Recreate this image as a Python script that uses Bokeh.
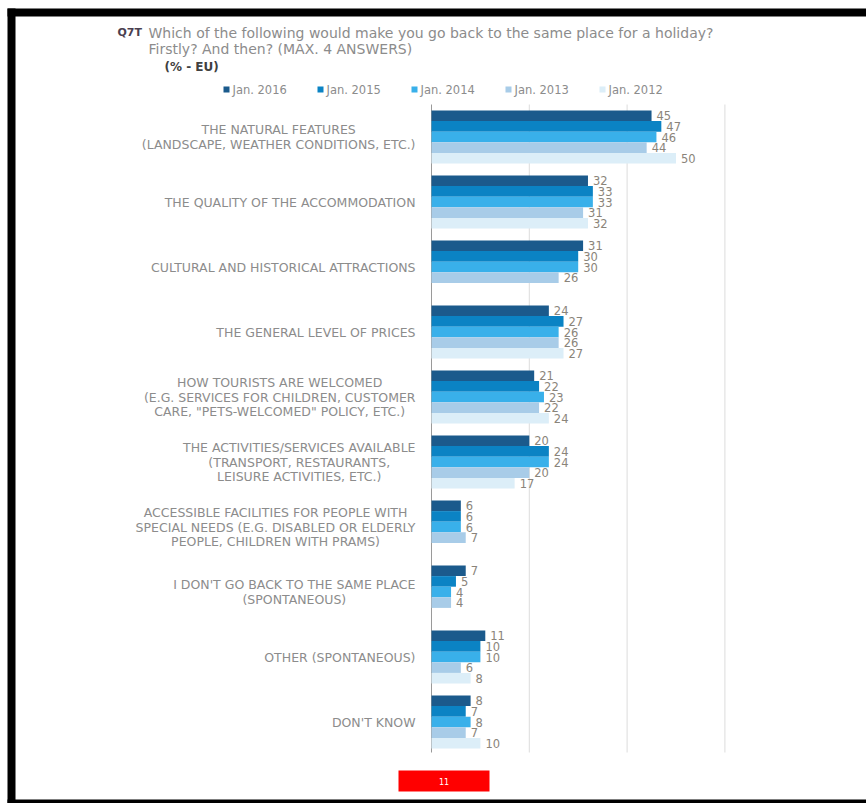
from bokeh.plotting import figure
from bokeh.models import Range1d, ColumnDataSource
from bokeh.core.properties import value
from bokeh.embed import file_html
from bokeh.resources import INLINE

# ---------------- data ----------------
categories = [
    "THE NATURAL FEATURES\n(LANDSCAPE, WEATHER CONDITIONS, ETC.)",
    "THE QUALITY OF THE ACCOMMODATION",
    "CULTURAL AND HISTORICAL ATTRACTIONS",
    "THE GENERAL LEVEL OF PRICES",
    "HOW TOURISTS ARE WELCOMED\n(E.G. SERVICES FOR CHILDREN, CUSTOMER\nCARE, \"PETS-WELCOMED\" POLICY, ETC.)",
    "THE ACTIVITIES/SERVICES AVAILABLE\n(TRANSPORT, RESTAURANTS,\nLEISURE ACTIVITIES, ETC.)",
    "ACCESSIBLE FACILITIES FOR PEOPLE WITH\nSPECIAL NEEDS (E.G. DISABLED OR ELDERLY\nPEOPLE, CHILDREN WITH PRAMS)",
    "I DON'T GO BACK TO THE SAME PLACE\n(SPONTANEOUS)",
    "OTHER (SPONTANEOUS)",
    "DON'T KNOW",
]
series_names = ["Jan. 2016", "Jan. 2015", "Jan. 2014", "Jan. 2013", "Jan. 2012"]
jan2016 = [45, 32, 31, 24, 21, 20, 6, 7, 11, 8]
jan2015 = [47, 33, 30, 27, 22, 24, 6, 5, 10, 7]
jan2014 = [46, 33, 30, 26, 23, 24, 6, 4, 10, 8]
jan2013 = [44, 31, 26, 26, 22, 20, 7, 4, 6, 7]
jan2012 = [50, 32, None, 27, 24, 17, None, None, 8, 10]
series_values = [jan2016, jan2015, jan2014, jan2013, jan2012]
colors = ["#1B5A8C", "#0B83C4", "#39B0EA", "#A8CCE8", "#DCEEF8"]
grid_ticks = [20, 40, 60]
title_code = "Q7T"
title_lines = ["Which of the following would make you go back to the same place for a holiday?",
               "Firstly? And then? (MAX. 4 ANSWERS)"]
subtitle = "(% - EU)"
page_number = "11"

# ---------------- layout ----------------
W, H = 866, 803
PXU = 4.89          # pixels per percentage point
ZERO_PX = 431       # pixel of value 0
GROUP_TOP = 110
GROUP_STEP = 65
BAR_H = 10.6

def X(px):
    return (px - ZERO_PX) / PXU

p = figure(width=W, height=H, output_backend="svg", toolbar_location=None,
           x_range=Range1d(X(0), X(W)), y_range=Range1d(H, 0),
           min_border=0, outline_line_color=None)
p.axis.visible = False
p.grid.visible = False
p.background_fill_color = "white"
p.border_fill_color = "white"

FONT = value("DejaVu Sans")

# grid lines and axis line
p.segment(x0=grid_ticks, x1=grid_ticks, y0=[104] * len(grid_ticks), y1=[752] * len(grid_ticks),
          line_color="#dcdcdc", line_width=1)
p.segment(x0=[0], x1=[0], y0=[104], y1=[752], line_color="#9a9a9a", line_width=1)

# bars
for j, (name, vals, col) in enumerate(zip(series_names, series_values, colors)):
    ys, vs, labels = [], [], []
    for i, v in enumerate(vals):
        if v is None:
            continue
        ys.append(GROUP_TOP + i * GROUP_STEP + (j + 0.5) * BAR_H)
        vs.append(v)
        labels.append(str(v))
    src = ColumnDataSource(dict(y=ys, v=vs, t=labels))
    p.hbar(y="y", left=0, right="v", height=BAR_H, fill_color=col, line_color=None, source=src)
    p.text(x="v", y="y", text="t", source=src, x_offset=5, text_align="left",
           text_baseline="middle", text_font=FONT, text_font_size="11.5px", text_color="#8a847a")

# category labels
cy = [GROUP_TOP + i * GROUP_STEP + 2.5 * BAR_H for i in range(len(categories))]
p.text(x=[X(415)] * len(categories), y=cy, text=categories, anchor=value("center_right"),
       text_align="center", text_baseline="middle", text_font=FONT, text_font_size="12.5px",
       text_color="#8c8c8c", text_line_height=0.95)

# legend
leg_x = [226 + k * 94 for k in range(len(series_names))]
p.rect(x=[X(v) for v in leg_x], y=[89] * len(leg_x), width=6, height=6,
       width_units="screen", height_units="screen", fill_color=colors, line_color=None)
p.text(x=[X(v + 6) for v in leg_x], y=[89] * len(leg_x), text=series_names,
       text_align="left", text_baseline="middle", text_font=FONT, text_font_size="11.5px",
       text_color="#8c8c8c")

# titles
p.text(x=[X(117)], y=[32], text=[title_code], text_align="left", text_baseline="middle",
       text_font=FONT, text_font_size="11px", text_font_style="bold", text_color="#4a4050")
p.text(x=[X(148), X(148)], y=[32, 48], text=title_lines, text_align="left", text_baseline="middle",
       text_font=FONT, text_font_size="14px", text_color="#8c8c8c")
p.text(x=[X(164)], y=[66], text=[subtitle], text_align="left", text_baseline="middle",
       text_font=FONT, text_font_size="12px", text_font_style="bold", text_color="#404040")

# page number box
p.quad(left=[X(398)], right=[X(489)], top=[770], bottom=[791], fill_color="#ff0000", line_color=None)
p.text(x=[X(443.5)], y=[781], text=[page_number], text_align="center", text_baseline="middle",
       text_font=FONT, text_font_size="8px", text_color="white")

# black page frame
p.quad(left=[X(7), X(7), X(7)], right=[X(866), X(15), X(866)],
       top=[8, 8, 799], bottom=[16, 803, 803], fill_color="black", line_color=None)

open("out.html", "w").write(file_html(p, INLINE))
